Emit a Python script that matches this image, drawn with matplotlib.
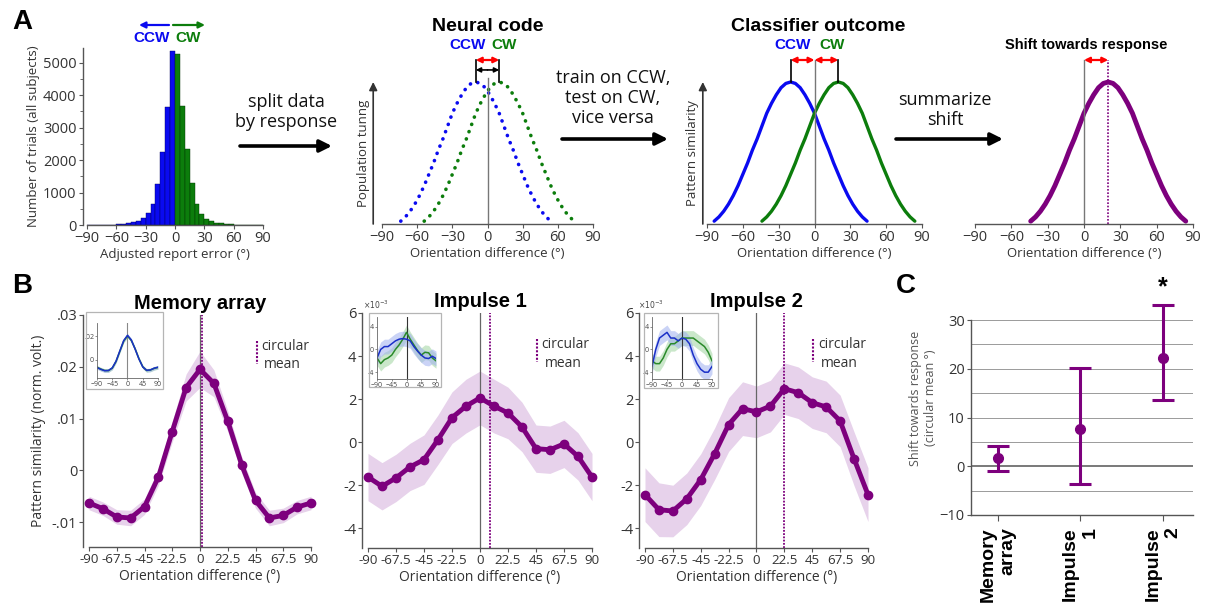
import matplotlib
matplotlib.use("Agg")
import matplotlib.pyplot as plt
from matplotlib.patches import Rectangle
from matplotlib.ticker import MultipleLocator

# ---------------- data ----------------
# Panel A histogram (5 deg bins)
hist_edges = list(range(-90, 91, 5))
hist_ccw = [5, 5, 5, 8, 10, 15, 25, 35, 50, 80, 130, 210, 370, 640, 1260, 2250, 3620, 5350]
hist_cw = [5260, 3650, 2330, 1280, 650, 340, 190, 120, 75, 50, 35, 25, 15, 10, 8, 5, 5, 5]

# schematic tuning profile (half profile, 4 deg steps)
profile_offsets_half = [0, 4, 8, 12, 16, 20, 24, 28, 32, 36, 40, 44, 48, 52, 56, 60, 64]
profile_values_half = [1.0, 0.99, 0.96, 0.91, 0.85, 0.78, 0.69, 0.60, 0.52, 0.43, 0.35,
                       0.27, 0.20, 0.14, 0.09, 0.05, 0.02]
neural_centers = [-10, 10]
classifier_centers = [-20, 20]
shift_center = 20

# Panel B
angles = [-90, -78.75, -67.5, -56.25, -45, -33.75, -22.5, -11.25, 0,
          11.25, 22.5, 33.75, 45, 56.25, 67.5, 78.75, 90]
angle_ticklabels = ["-90", "-67.5", "-45", "-22.5", "0", "22.5", "45", "67.5", "90"]

mem_vals = [-0.0063, -0.0074, -0.0090, -0.0092, -0.0070, -0.0013, 0.0075, 0.0160, 0.0195,
            0.0168, 0.0095, 0.0011, -0.0058, -0.0092, -0.0087, -0.0071, -0.0063]
mem_err = [0.0013, 0.0013, 0.0014, 0.0015, 0.0015, 0.0016, 0.0020, 0.0026, 0.0035,
           0.0026, 0.0020, 0.0016, 0.0015, 0.0015, 0.0014, 0.0013, 0.0013]
imp1_vals = [-1.63, -2.06, -1.67, -1.16, -0.82, 0.11, 1.13, 1.67, 2.05,
             1.67, 1.35, 0.70, -0.31, -0.36, -0.09, -0.67, -1.63]
imp1_err = [1.1, 1.1, 1.1, 1.1, 1.15, 1.15, 1.2, 1.25, 1.25,
            1.25, 1.2, 1.15, 1.1, 1.1, 1.1, 1.1, 1.1]
imp2_vals = [-2.45, -3.15, -3.21, -2.64, -1.75, -0.54, 0.81, 1.55, 1.40,
             1.67, 2.48, 2.29, 1.83, 1.63, 0.98, -0.78, -2.45]
imp2_err = [1.25, 1.25, 1.2, 1.2, 1.2, 1.2, 1.25, 1.25, 1.2,
            1.2, 1.2, 1.2, 1.2, 1.2, 1.2, 1.25, 1.25]

# insets (CCW = blue, CW = green)
mem_in_ccw = [-0.0065, -0.0080, -0.0092, -0.0090, -0.0068, -0.0010, 0.0078, 0.0165, 0.0210,
              0.0170, 0.0092, 0.0008, -0.0060, -0.0088, -0.0085, -0.0070, -0.0062]
mem_in_cw = [-0.0062, -0.0078, -0.0090, -0.0091, -0.0070, -0.0012, 0.0075, 0.0160, 0.0205,
             0.0166, 0.0095, 0.0010, -0.0058, -0.0090, -0.0086, -0.0072, -0.0064]
imp1_in_ccw = [-1.5, 0.0, 0.5, 0.5, 1.0, 1.5, 1.8, 1.9, 1.8, 1.5, 0.5, -0.3, -1.0, -1.5, -1.6, -1.2, -1.6]
imp1_in_cw = [-1.5, -2.5, -1.8, -1.5, -1.0, 0.0, 0.8, 1.8, 3.0, 1.8, 0.8, -0.2, -1.0, -0.5, -0.6, -1.5, -2.0]
imp2_in_ccw = [-3.0, 0.0, 2.0, 2.5, 3.0, 2.0, 2.0, 1.5, 2.0, 1.8, 1.0, -1.0, -2.5, -3.5, -4.0, -4.0, -3.0]
imp2_in_cw = [-2.0, -2.5, -2.5, -1.5, 0.0, 1.0, 1.0, 1.5, 2.0, 2.0, 2.0, 2.0, 1.5, 1.0, 0.5, -0.5, -2.0]
inset_err_mem = 0.0015
inset_err_imp = 1.3

# Panel C
c_labels = ["Memory\narray", "Impulse\n1", "Impulse\n2"]
c_means = [1.6, 7.7, 22.3]
c_low = [-1.0, -3.6, 13.6]
c_high = [4.1, 20.1, 33.1]
c_sig = [False, False, True]

# ---------------- style ----------------
BLUE = "#0a0af0"
GREEN = "#0c7d0c"
PURPLE = "#7d007d"
BAND = "#e7d2eb"
AXC = "#555555"
TXC = "#333333"
FONT = "Open Sans"
BFONT = "Liberation Sans"
plt.rcParams["font.family"] = [FONT, "DejaVu Sans"]

W, H = 1206, 604
fig = plt.figure(figsize=(W / 100, H / 100), dpi=100)


def px_axes(x0, y0, x1, y1, **kw):
    return fig.add_axes([x0 / W, 1 - y1 / H, (x1 - x0) / W, (y1 - y0) / H], **kw)


def style(ax, ts=10.5, left=True):
    for s in ["top", "right"]:
        ax.spines[s].set_visible(False)
    for s in ["left", "bottom"]:
        ax.spines[s].set_color(AXC)
        ax.spines[s].set_linewidth(1.0)
    if not left:
        ax.spines["left"].set_visible(False)
        ax.set_yticks([])
    ax.tick_params(colors=AXC, labelcolor=TXC, labelsize=ts, length=3, width=0.8, pad=1.5)
    ax.patch.set_alpha(0)


def full_profile(center):
    xs = [center - d for d in profile_offsets_half[::-1]] + [center + d for d in profile_offsets_half[1:]]
    ys = profile_values_half[::-1] + profile_values_half[1:]
    return xs, ys


def red_arrow(ax, x0, x1, y):
    ax.annotate("", xy=(x1, y), xytext=(x0, y),
                arrowprops=dict(arrowstyle="<|-|>", color="red", lw=1.6, mutation_scale=8,
                                shrinkA=0, shrinkB=0), annotation_clip=False)


TOP = 1.155
DOTS = (0, (0.05, 2.1))

# ---------------- Panel A: histogram ----------------
ax = px_axes(87, 48, 263, 225)
style(ax, ts=10.5)
ax.bar(hist_edges[:18], hist_ccw, width=5, align="edge", color=BLUE, edgecolor="#000060", lw=0.3)
ax.bar(hist_edges[18:-1], hist_cw, width=5, align="edge", color=GREEN, edgecolor="#003000", lw=0.3)
ax.set_xlim(-90, 90)
ax.set_ylim(0, 5450)
ax.set_xticks(range(-90, 91, 30))
ax.set_yticks(range(0, 5001, 1000))
ax.yaxis.set_minor_locator(MultipleLocator(500))
ax.tick_params(which="minor", length=2, color=AXC)
ax.spines["left"].set_position(("outward", 3))
ax.set_xlabel("Adjusted report error (°)", fontsize=9.5, color=TXC, labelpad=1)
ax.set_ylabel("Number of trials (all subjects)", fontsize=9.5, color=TXC, labelpad=2)

# ---------------- Panel A: neural code ----------------
ax = px_axes(382, 60, 593, 224)
style(ax, ts=10.5, left=False)
ax.set_xlim(-90, 90)
ax.set_ylim(0, TOP)
ax.set_xticks(range(-90, 91, 30))
for c, col in zip(neural_centers, [BLUE, GREEN]):
    xs, ys = full_profile(c)
    ax.plot(xs, ys, color=col, lw=2.6, ls=DOTS, dash_capstyle="round", clip_on=False)
ax.plot([0, 0], [0, 1.03], color="#777777", lw=1)
for c in neural_centers:
    ax.plot([c, c], [1.0, TOP], color="k", lw=1.2, clip_on=False)
red_arrow(ax, neural_centers[0], neural_centers[1], TOP)
for c in neural_centers:
    ax.annotate("", xy=(c, 1.085), xytext=(0, 1.085),
                arrowprops=dict(arrowstyle="-|>", color="k", lw=1.2, mutation_scale=7,
                                shrinkA=0, shrinkB=0), annotation_clip=False)
ax.annotate("", xy=(-97.5, 1.0), xytext=(-97.5, 0),
            arrowprops=dict(arrowstyle="-|>", color="#333333", lw=1.2, mutation_scale=12,
                            shrinkA=0, shrinkB=0), annotation_clip=False)
ax.text(-106, 0.5, "Population tunng", rotation=90, ha="center", va="center",
        fontsize=9.5, color=TXC)
ax.set_xlabel("Orientation difference (°)", fontsize=9.5, color=TXC, labelpad=1)
ax.text(0, 1.39, "Neural code", ha="center", va="center", fontsize=14, fontweight="bold",
        family=BFONT)
ax.text(-17, 1.26, "CCW", ha="center", va="center", fontsize=11, fontweight="bold",
        family=BFONT, color=BLUE)
ax.text(14, 1.26, "CW", ha="center", va="center", fontsize=11, fontweight="bold",
        family=BFONT, color=GREEN)

# ---------------- Panel A: classifier outcome ----------------
ax = px_axes(707, 60, 922, 224)
style(ax, ts=10.5, left=False)
ax.set_xlim(-90, 90)
ax.set_ylim(0, TOP)
ax.set_xticks(range(-90, 91, 30))
for c, col in zip(classifier_centers, [BLUE, GREEN]):
    xs, ys = full_profile(c)
    ax.plot(xs, ys, color=col, lw=2.4, clip_on=False, solid_capstyle="round")
ax.plot([0, 0], [0, TOP], color="#777777", lw=1, clip_on=False)
for c in classifier_centers:
    ax.plot([c, c], [1.0, TOP], color="k", lw=1.2, clip_on=False)
red_arrow(ax, classifier_centers[0], 0, TOP)
red_arrow(ax, 0, classifier_centers[1], TOP)
ax.annotate("", xy=(-93.5, 1.0), xytext=(-93.5, 0),
            arrowprops=dict(arrowstyle="-|>", color="#333333", lw=1.2, mutation_scale=12,
                            shrinkA=0, shrinkB=0), annotation_clip=False)
ax.text(-102, 0.5, "Pattern similarity", rotation=90, ha="center", va="center",
        fontsize=9.5, color=TXC)
ax.set_xlabel("Orientation difference (°)", fontsize=9.5, color=TXC, labelpad=1)
ax.text(3, 1.39, "Classifier outcome", ha="center", va="center", fontsize=14,
        fontweight="bold", family=BFONT)
ax.text(-18, 1.26, "CCW", ha="center", va="center", fontsize=11, fontweight="bold",
        family=BFONT, color=BLUE)
ax.text(15, 1.26, "CW", ha="center", va="center", fontsize=11, fontweight="bold",
        family=BFONT, color=GREEN)

# ---------------- Panel A: shift ----------------
ax = px_axes(975, 60, 1193, 224)
style(ax, ts=10.5, left=False)
ax.set_xlim(-90, 90)
ax.set_ylim(0, TOP)
ax.set_xticks(range(-90, 91, 30))
xs, ys = full_profile(shift_center)
ax.plot(xs, ys, color=PURPLE, lw=3.5, clip_on=False, solid_capstyle="round")
ax.plot([0, 0], [0, TOP], color="#777777", lw=1, clip_on=False)
ax.plot([shift_center, shift_center], [0, TOP], color=PURPLE, lw=1.2, ls=(0, (1, 1)), clip_on=False)
red_arrow(ax, 0, shift_center, TOP)
ax.set_xlabel("Orientation difference (°)", fontsize=9.5, color=TXC, labelpad=1)
ax.text(2, 1.26, "Shift towards response", ha="center", va="center", fontsize=10.5,
        fontweight="bold", family=BFONT)

# ---------------- Panel B ----------------
b_specs = [
    dict(box=(89, 315, 311, 547), vals=mem_vals, err=mem_err, title="Memory array",
         ylim=(-0.0148, 0.03), yt=[-0.01, 0, 0.01, 0.02, 0.03], ytl=["-.01", "0", ".01", ".02", ".03"],
         cm=c_means[0], ibox=(86, 312, 163, 389), iax=(97, 323, 158, 378),
         ic=mem_in_ccw, iw=mem_in_cw, ie=inset_err_mem, iylim=(-0.0154, 0.0315),
         iyt=[0, 0.02], iytl=["0", ".02"], exp=False),
    dict(box=(368, 313, 592, 548), vals=imp1_vals, err=imp1_err, title="Impulse 1",
         ylim=(-4.93, 6), yt=[-4, -2, 0, 2, 4, 6], ytl=["-4", "-2", "0", "2", "4", "6"],
         cm=c_means[1], ibox=(369, 313, 441, 387), iax=(377, 317, 436, 379),
         ic=imp1_in_ccw, iw=imp1_in_cw, ie=inset_err_imp, iylim=(-5.2, 5.7),
         iyt=[-4, 0, 4], iytl=["-4", "0", "4"], exp=True),
    dict(box=(645, 313, 868, 548), vals=imp2_vals, err=imp2_err, title="Impulse 2",
         ylim=(-4.93, 6), yt=[-4, -2, 0, 2, 4, 6], ytl=["-4", "-2", "0", "2", "4", "6"],
         cm=c_means[2], ibox=(644, 313, 718, 388), iax=(652, 317, 712, 379),
         ic=imp2_in_ccw, iw=imp2_in_cw, ie=inset_err_imp, iylim=(-5.2, 5.7),
         iyt=[-4, 0, 4], iytl=["-4", "0", "4"], exp=True),
]

for i, sp in enumerate(b_specs):
    ax = px_axes(*sp["box"])
    style(ax, ts=10.5)
    ax.spines["left"].set_position(("outward", 4))
    ax.set_xlim(-90, 90)
    ax.set_ylim(*sp["ylim"])
    ax.set_xticks(angles[::2])
    ax.set_xticklabels(angle_ticklabels, fontsize=9.6)
    ax.set_yticks(sp["yt"])
    ax.set_yticklabels(sp["ytl"])
    lo = [v - e for v, e in zip(sp["vals"], sp["err"])]
    hi = [v + e for v, e in zip(sp["vals"], sp["err"])]
    ax.fill_between(angles, lo, hi, color=BAND, lw=0, clip_on=False, zorder=1)
    ax.axvline(0, color="#666666", lw=0.9, zorder=2)
    ax.axvline(sp["cm"], color=PURPLE, lw=1.3, ls=(0, (1, 0.8)), zorder=2)
    ax.plot(angles, sp["vals"], color=PURPLE, lw=3.5, marker="o", ms=6, clip_on=False, zorder=3)
    ax.set_xlabel("Orientation difference (°)", fontsize=10, color=TXC, labelpad=2)
    ax.set_title(sp["title"], fontsize=14.5, fontweight="bold", family=BFONT, pad=4)
    if i == 0:
        ax.set_ylabel("Pattern similarity (norm. volt.)", fontsize=10, color=TXC, labelpad=4)
    # legend
    ax.plot([0.755, 0.755], [0.89, 0.79], transform=ax.transAxes, color=PURPLE, lw=1.5,
            ls=(0, (1, 0.8)), clip_on=False)
    ax.text(0.775, 0.865, "circular", transform=ax.transAxes, fontsize=10, color=TXC,
            ha="left", va="center")
    ax.text(0.87, 0.785, "mean", transform=ax.transAxes, fontsize=10, color=TXC,
            ha="center", va="center")
    # inset box
    bx0, by0, bx1, by1 = sp["ibox"]
    fig.add_artist(Rectangle((bx0 / W, 1 - by1 / H), (bx1 - bx0) / W, (by1 - by0) / H,
                             transform=fig.transFigure, facecolor="none",
                             edgecolor="#b5b5b5", lw=0.9))
    ia = px_axes(*sp["iax"])
    ia.set_facecolor("white")
    for s in ["top", "right"]:
        ia.spines[s].set_visible(False)
    for s in ["left", "bottom"]:
        ia.spines[s].set_color("#666666")
        ia.spines[s].set_linewidth(0.6)
    ia.set_xlim(-90, 90)
    ia.set_ylim(*sp["iylim"])
    ia.set_xticks([-90, -45, 0, 45, 90])
    ia.set_yticks(sp["iyt"])
    ia.set_yticklabels(sp["iytl"])
    ia.tick_params(labelsize=5, length=1.5, width=0.5, pad=0.5, colors="#666666",
                   labelcolor="#444444")
    ia.axvline(0, color="#333333" if sp["exp"] else "#888888", lw=0.8)
    for arr, col, bcol in [(sp["iw"], "#2a8a2a", "#9fd49f"), (sp["ic"], "#1a2fc8", "#9fb0ef")]:
        ia.fill_between(angles, [v - sp["ie"] for v in arr], [v + sp["ie"] for v in arr],
                        color=bcol, alpha=0.55, lw=0)
        ia.plot(angles, arr, color=col, lw=1.1)
    if sp["exp"]:
        fig.text((bx0 - 6) / W, 1 - 305 / H, r"$\times10^{-3}$", fontsize=5.5, color="#444444",
                 ha="left", va="center")

# ---------------- Panel C ----------------
ax = px_axes(971, 281, 1193, 515)
style(ax, ts=10.5)
ax.set_xlim(0.67, 3.37)
ax.set_ylim(-10, 38)
ax.spines["left"].set_bounds(-10, 30)
ax.set_yticks([-10, 0, 10, 20, 30])
for g in [-5, 5, 10, 15, 20, 25, 30]:
    ax.axhline(g, color="#9a9a9a", lw=0.7, zorder=0)
ax.axhline(0, color="#555555", lw=1.1, zorder=0)
xpos = [1, 2, 3]
yerr = [[m - l for m, l in zip(c_means, c_low)], [h - m for m, h in zip(c_means, c_high)]]
ax.errorbar(xpos, c_means, yerr=yerr, fmt="o", color=PURPLE, ms=7, lw=2.2, capsize=8,
            capthick=2.2, zorder=3)
for x, h, s in zip(xpos, c_high, c_sig):
    if s:
        ax.text(x, h + 1.2, "*", ha="center", va="bottom", fontsize=18, fontweight="bold",
                family=BFONT)
ax.set_xticks(xpos)
ax.set_xticklabels(c_labels, rotation=90, fontsize=14, fontweight="bold", family=BFONT,
                   color="black", ha="center", va="top", multialignment="right")
ax.tick_params(axis="x", length=4, pad=5)
ax.set_ylabel("Shift towards response\n(circular mean °)", fontsize=9, color="#555555",
              labelpad=2)

# ---------------- overlay: letters, step text, arrows ----------------
ov = fig.add_axes([0, 0, 1, 1])
ov.set_xlim(0, W)
ov.set_ylim(H, 0)
ov.axis("off")
ov.patch.set_alpha(0)
ov.set_zorder(10)
for lbl, x, y in [("A", 22, 22), ("B", 22, 286), ("C", 906, 286)]:
    ov.text(x, y, lbl, fontsize=20, fontweight="bold", family=BFONT, ha="center", va="center")

ov.text(286, 112, "split data\nby response", fontsize=13, ha="center", va="center",
        linespacing=1.15, color="#111111")
ov.text(613, 98, "train on CCW,\ntest on CW,\nvice versa", fontsize=13, ha="center",
        va="center", linespacing=1.15, color="#111111")
ov.text(945, 110, "summarize\nshift", fontsize=13, ha="center", va="center",
        linespacing=1.15, color="#111111")
for x0, x1, y in [(240, 332, 146), (562, 668, 139), (896, 1003, 139)]:
    ov.annotate("", xy=(x1, y), xytext=(x0, y),
                arrowprops=dict(arrowstyle="-|>", color="black", lw=2.6, mutation_scale=18,
                                shrinkA=0, shrinkB=0))
# histogram direction arrows
ov.annotate("", xy=(139, 25), xytext=(169, 25),
            arrowprops=dict(arrowstyle="-|>", color=BLUE, lw=1.6, mutation_scale=9,
                            shrinkA=0, shrinkB=0))
ov.annotate("", xy=(205, 25), xytext=(173, 25),
            arrowprops=dict(arrowstyle="-|>", color=GREEN, lw=1.6, mutation_scale=9,
                            shrinkA=0, shrinkB=0))
ov.text(152, 38, "CCW", fontsize=11, fontweight="bold", family=BFONT, color=BLUE,
        ha="center", va="center")
ov.text(188, 38, "CW", fontsize=11, fontweight="bold", family=BFONT, color=GREEN,
        ha="center", va="center")

fig.savefig("out.png", dpi=100)
